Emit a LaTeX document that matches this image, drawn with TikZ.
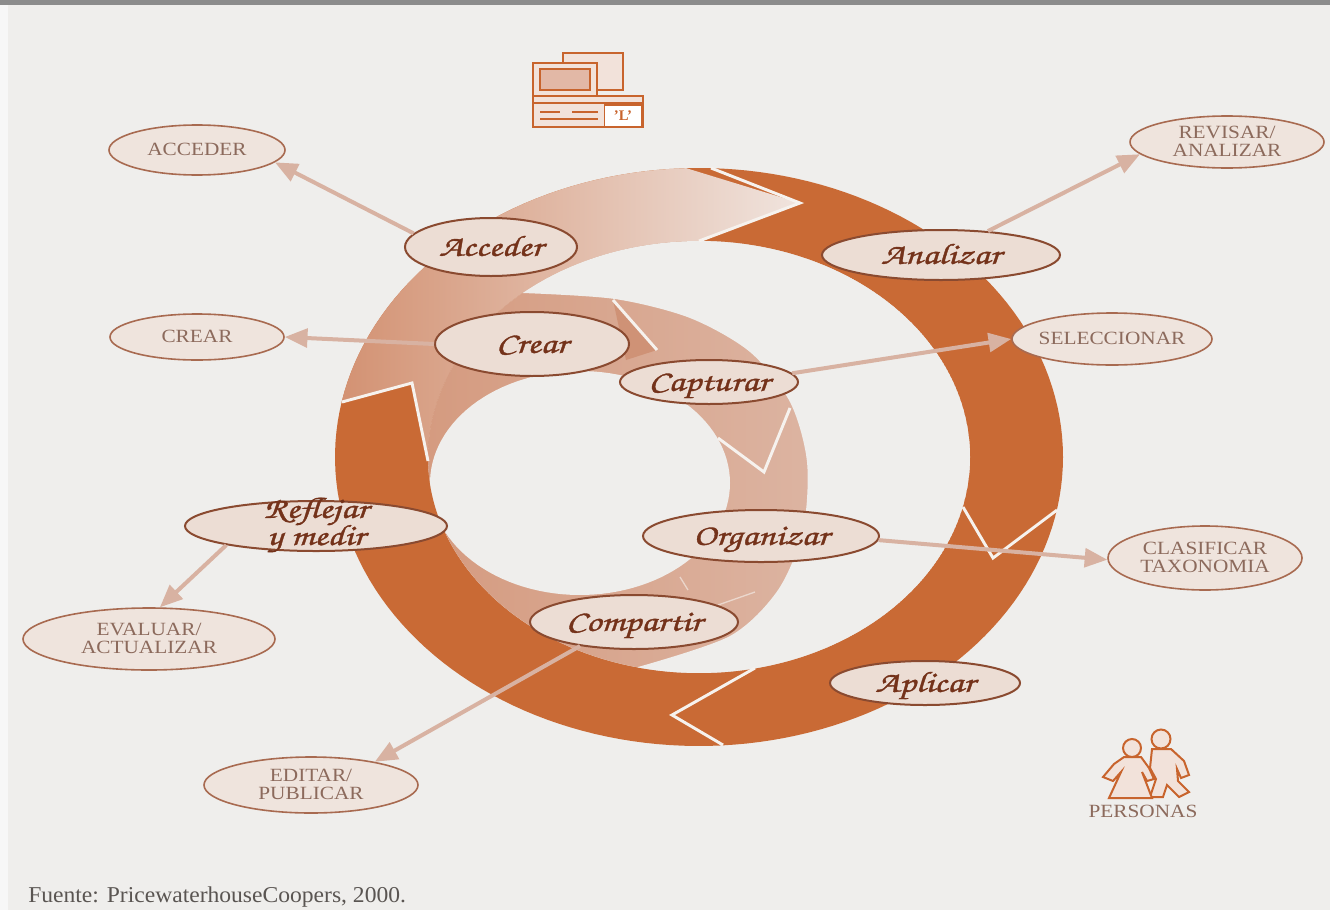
\documentclass[tikz,border=0pt]{standalone}
\usepackage{fontspec}
\setmainfont{Liberation Serif}
\newfontfamily\lblfont[FakeStretch=1.14]{Liberation Serif}
\newfontfamily\srcfont[FakeStretch=1.04]{Liberation Serif}
\newfontfamily\scrfont[Extension=.otf,FakeStretch=1.3,FakeBold=1.2]{texgyrechorus-mediumitalic}
\usetikzlibrary{shapes.geometric,arrows.meta}
\definecolor{bgc}{HTML}{EFEEEC}
\definecolor{topgray}{HTML}{8C8C8C}
\definecolor{leftw}{HTML}{F7F7F7}
\definecolor{dark}{HTML}{C96A35}
\definecolor{segL}{HTML}{D39273}
\definecolor{segM}{HTML}{E0BCAA}
\definecolor{segR}{HTML}{F0E4DE}
\definecolor{inL}{HTML}{D59B80}
\definecolor{inR}{HTML}{DFBEAF}
\definecolor{crA}{HTML}{CF9276}
\definecolor{wline}{HTML}{F6F2EE}
\definecolor{inedge}{HTML}{8A4A30}
\definecolor{infill}{HTML}{ECDDD4}
\definecolor{scrtext}{HTML}{74321A}
\definecolor{outedge}{HTML}{A86A50}
\definecolor{outfill}{HTML}{EFE4DD}
\definecolor{outtext}{HTML}{8C6A5C}
\definecolor{conncol}{HTML}{D8B2A2}
\definecolor{iconO}{HTML}{C8642D}
\definecolor{iconF}{HTML}{F2E2DA}
\definecolor{iconS}{HTML}{E2B8A6}
\definecolor{srctext}{HTML}{5A5552}
\newcommand{\ntx}[1]{\makebox[0pt]{\smash{\raisebox{-0.3em}{#1}}}}
\newcommand{\ntt}[2]{\makebox[0pt]{\smash{\raisebox{-0.38em}{\begin{tabular}{@{}c@{}}#1\\#2\end{tabular}}}}}
\newcommand{\nts}[2]{\makebox[0pt]{\smash{\raisebox{-0.2em}{\begin{tabular}{@{}c@{}}#1\\#2\end{tabular}}}}}
\tikzset{
  esize/.style 2 args={minimum width=#1*1.5pt, minimum height=#2*1.5pt},
  inlbl/.style={ellipse, draw=inedge, line width=1.5pt, fill=infill, inner sep=0pt,
    text=scrtext, font=\scrfont\fontsize{22pt}{14.5pt}\selectfont},
  outlbl/.style={ellipse, draw=outedge, line width=1.2pt, fill=outfill, inner sep=0pt,
    text=outtext, font=\lblfont\fontsize{14pt}{13.5pt}\selectfont},
  conn/.style={draw=conncol, line width=3pt, -{Triangle[length=17pt,width=14pt]}},
  wl/.style={draw=wline, line width=2.2pt, line join=miter},
  iconbox/.style={fill=iconF, draw=iconO, line width=2.2pt},
}
\begin{document}
\begin{tikzpicture}[x=0.75pt,y=-0.75pt]
\fill[bgc] (0,0) rectangle (1330,910);
\fill[topgray] (0,0) rectangle (1330,5);
\fill[leftw] (0,5) rectangle (8,910);
\useasboundingbox (0,0) rectangle (1330,910);

% outer ring
\fill[dark] plot[domain=0:360,samples=180] ({699+364*cos(\x)},{457+289*sin(\x)}) -- cycle;
\fill[bgc] plot[domain=0:360,samples=180] ({699+271*cos(\x)},{457+216*sin(\x)}) -- cycle;
% light segment of the outer ring
\shade[left color=segL, middle color=segM, right color=segR]
  (412,383) -- plot[domain=191:268,samples=60] ({699+364*cos(\x)},{457+289*sin(\x)})
  -- (800,203) -- plot[domain=270:179,samples=60] ({699+271*cos(\x)},{457+216*sin(\x)}) -- cycle;

% inner spiral band
\begin{scope}
  \clip plot[domain=0:360,samples=180] ({699+271*cos(\x)},{457+216*sin(\x)}) -- cycle;
  \shade[left color=inL, right color=inR] (428,241) rectangle (970,673);
  \fill[bgc] (523,293) -- plot[domain=229.5:463,samples=120] ({699+271*cos(\x)},{457+216*sin(\x)})
    -- plot[smooth] coordinates {(638,667) (730,636) (778,590) (803,530) (807,462) (790,402) (750,352) (690,318) (615,299) (523,293)} -- cycle;
  \fill[bgc] plot[domain=0:360,samples=120] ({580+150*cos(\x)},{483+112*sin(\x)}) -- cycle;
  \fill[crA] (613,300) -- (657,350) -- (626,360) -- cycle;
\end{scope}

% white segment boundaries
\draw[wl] (711,168) -- (800,203) -- (699,241);
\draw[wl] (1057,510) -- (993,558) -- (963,507);
\draw[wl] (755,668) -- (672,715) -- (723,745);
\draw[wl] (342,402) -- (412,383) -- (428,461);
\draw[wl] (718,438) -- (764,472) -- (790,408);
\draw[wl] (613,300) -- (657,350);
\draw[wline, line width=1pt, opacity=0.6] (680,577) -- (688,590);
\draw[wline, line width=1pt, opacity=0.6] (718,605) -- (755,592);

% outer labels
\node[outlbl,esize={88}{25}] (ACC) at (197,150) {\ntx{ACCEDER}};
\node[outlbl,esize={97}{26}] (REV) at (1227,142) {\ntt{REVISAR/}{ANALIZAR}};
\node[outlbl,esize={87}{23}] (CRE) at (197,337) {\ntx{CREAR}};
\node[outlbl,esize={100}{26}] (SEL) at (1112,339) {\ntx{SELECCIONAR}};
\node[outlbl,esize={97}{32}] (CLA) at (1205,558) {\ntt{CLASIFICAR}{TAXONOMIA}};
\node[outlbl,esize={126}{31}] (EVA) at (149,639) {\ntt{EVALUAR/}{ACTUALIZAR}};
\node[outlbl,esize={107}{28}] (EDI) at (311,785) {\ntt{EDITAR/}{PUBLICAR}};

% inner (script) labels
\node[inlbl,esize={86}{29}] (acc) at (491,247) {\ntx{Acceder}};
\node[inlbl,esize={119}{25}] (ana) at (941,255) {\ntx{Analizar}};
\node[inlbl,esize={97}{32}] (cre) at (532,344) {\ntx{Crear}};
\node[inlbl,esize={89}{22}] (cap) at (709,382) {\ntx{Capturar}};
\node[inlbl,esize={118}{26}] (org) at (761,536) {\ntx{Organizar}};
\node[inlbl,esize={104}{27}] (com) at (634,622) {\ntx{Compartir}};
\node[inlbl,esize={95}{22}] (apl) at (925,683) {\ntx{Aplicar}};
\node[inlbl,esize={131}{25}] (ref) at (316,526) {\nts{Reflejar}{y medir}};

% connectors
\draw[conn] (acc.170) -- (ACC.-9);
\draw[conn] (ana.27) -- (REV.188);
\draw[conn] (cre.180) -- (CRE.0);
\draw[conn] (cap.6) -- (SEL.180);
\draw[conn] (org.-2) -- (CLA.181);
\draw[conn] (ref.192) -- (EVA.71);
\draw[conn] (com.204) -- (EDI.20);

% computer icon
\draw[iconbox] (563,53) rectangle (623,90);
\fill[iconF] (570,59) rectangle (616,84);
\draw[iconbox] (533,63) rectangle (597,96);
\draw[fill=iconS, draw=iconO, line width=1pt] (540,69) rectangle (590,90);
\draw[iconbox] (533,96) rectangle (643,127);
\draw[iconO, line width=1.2pt] (533,103) -- (643,103);
\draw[iconO, line width=1pt] (540,112) -- (560,112) (572,112) -- (598,112) (540,119) -- (598,119);
\node[draw=iconO, fill=white, line width=1pt, minimum width=28pt, minimum height=16pt,
  inner sep=0pt, text=iconO, font=\bfseries\fontsize{11pt}{11pt}\selectfont] (Lbox) at (623,115.5) {'L'};

% people icon
\draw[fill=iconF, draw=iconO, line width=1.5pt]
  (1152,749) -- (1171,749) -- (1184,761) -- (1189,775) -- (1181,778) -- (1177,769) -- (1178,781)
  -- (1189,792) -- (1179,797) -- (1167,785) -- (1163,797) -- (1150,797) -- (1156,779) -- (1150,768) -- cycle;
\draw[fill=iconF, draw=iconO, line width=1.5pt] (1161,739) circle[radius=9.5];
\draw[fill=iconF, draw=iconO, line width=1.5pt]
  (1124,757) -- (1141,757) -- (1149,768) -- (1154,779) -- (1147,781) -- (1142,772) -- (1152,798)
  -- (1109,798) -- (1121,772) -- (1113,781) -- (1103,777) -- (1114,764) -- cycle;
\draw[fill=iconF, draw=iconO, line width=1.5pt] (1132,748) circle[radius=9];
\node[text=outtext, font=\lblfont\fontsize{14pt}{14pt}\selectfont] (pers) at (1143,811) {PERSONAS};

% source
\node[anchor=base west, inner sep=0pt, text=srctext, font=\srcfont\fontsize{17pt}{17pt}\selectfont] (src) at (28,902) {Fuente: PricewaterhouseCoopers, 2000.};
\end{tikzpicture}
\end{document}
